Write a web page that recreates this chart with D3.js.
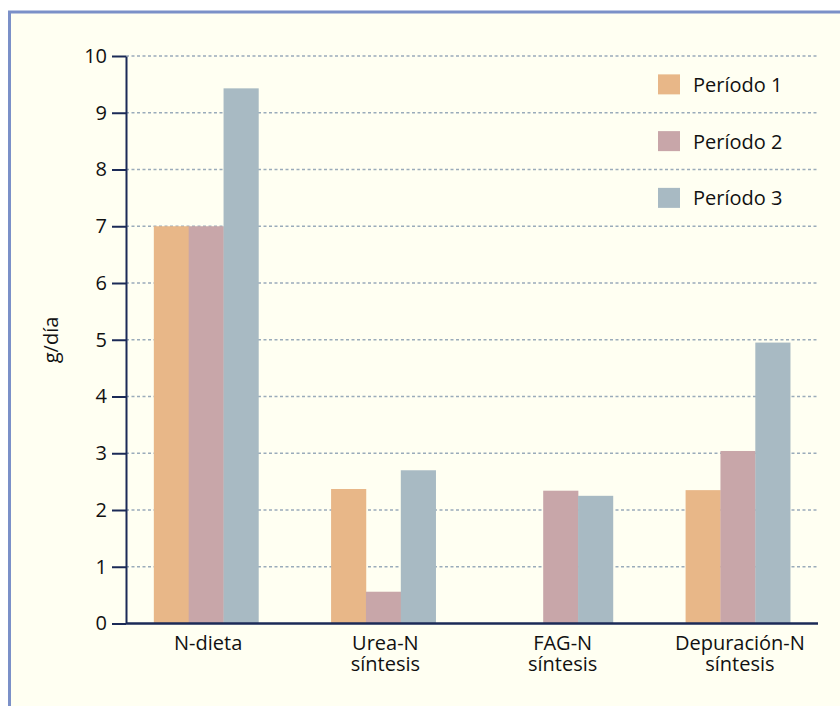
<!DOCTYPE html>
<html>
<head>
<meta charset="utf-8">
<script src="https://cdn.jsdelivr.net/npm/d3@7"></script>
<style>
    body { margin: 0; background: #ffffff; }
    text { font-family: 'Open Sans', sans-serif; fill: #111111; }
    .grid line { stroke: #9aabba; stroke-width: 1.3; stroke-dasharray: 3 2.5; }
    .axis path, .axis line { stroke: #1b2a57; stroke-width: 2; }
</style>
</head>
<body>
<div id="chart"></div>
<script>
const categories = [['N-dieta'], ['Urea-N', 'síntesis'], ['FAG-N', 'síntesis'], ['Depuración-N', 'síntesis']]
const seriesNames = ['Período 1', 'Período 2', 'Período 3']
const periodo1 = [7.0, 2.37, null, 2.35]
const periodo2 = [7.0, 0.56, 2.34, 3.04]
const periodo3 = [9.43, 2.70, 2.25, 4.95]
const yTicks = [0, 1, 2, 3, 4, 5, 6, 7, 8, 9, 10]
const colours = ['#e8b788', '#c8a6a9', '#a8bac3']

document.addEventListener('DOMContentLoaded', () => draw());

function draw() {
    const width = 840
    const height = 706
    const left = 126, right = 818, top = 56, bottom = 623.5

    const svg = d3.select('#chart')
        .append('svg')
        .attr('width', width)
        .attr('height', height)

    // frame
    svg.append('rect')
        .attr('x', 9.5).attr('y', 12)
        .attr('width', width + 20).attr('height', height + 20)
        .attr('fill', '#fffff2')
        .attr('stroke', '#7b90c8')
        .attr('stroke-width', 3)

    const keys = categories.map(c => c.join(' '))
    const series = [periodo1, periodo2, periodo3]

    const x = d3.scaleBand()
        .domain(keys)
        .range([left, right])
        .paddingInner(0.41)
        .paddingOuter(0.157)
    const xInner = d3.scaleBand()
        .domain(seriesNames)
        .range([0, x.bandwidth()])
    const y = d3.scaleLinear()
        .domain([0, 10])
        .range([bottom, top])

    // grid
    svg.append('g')
        .attr('class', 'grid')
        .selectAll('line')
        .data(yTicks.filter(t => t > 0))
        .enter()
        .append('line')
        .attr('x1', left).attr('x2', right)
        .attr('y1', d => y(d)).attr('y2', d => y(d))

    // bars
    const rows = []
    series.forEach((values, s) => {
        values.forEach((v, i) => {
            if (v != null) rows.push({ cat: keys[i], name: seriesNames[s], value: v, s })
        })
    })
    svg.append('g')
        .selectAll('rect')
        .data(rows)
        .enter()
        .append('rect')
        .attr('x', d => x(d.cat) + xInner(d.name))
        .attr('y', d => y(d.value))
        .attr('width', xInner.bandwidth() + 0.3)
        .attr('height', d => y(0) - y(d.value))
        .attr('fill', d => colours[d.s])

    // y axis
    const yAxis = svg.append('g')
        .attr('class', 'axis')
        .attr('transform', `translate(${left},0)`)
        .call(d3.axisLeft(y).tickValues(yTicks).tickSize(14).tickSizeOuter(0).tickPadding(5))
    yAxis.selectAll('text').style('font-size', '20px').attr('fill', '#111')

    // x axis line
    svg.append('line')
        .attr('class', 'axis-x')
        .attr('x1', left).attr('x2', right)
        .attr('y1', y(0)).attr('y2', y(0))
        .attr('stroke', '#1b2a57')
        .attr('stroke-width', 2.5)

    // x labels
    const xLabels = svg.append('g')
        .selectAll('text')
        .data(categories)
        .enter()
        .append('text')
        .attr('text-anchor', 'middle')
        .style('font-size', '20px')
        .attr('transform', (d, i) => `translate(${x(keys[i]) + x.bandwidth() / 2 + 2}, 650)`)
    xLabels.selectAll('tspan')
        .data(d => d)
        .enter()
        .append('tspan')
        .attr('x', 0)
        .attr('y', (d, i) => i * 20.5)
        .text(d => d)

    // y label
    svg.append('text')
        .attr('transform', `translate(58, 340) rotate(-90)`)
        .attr('text-anchor', 'middle')
        .style('font-size', '20px')
        .text('g/día')

    // legend
    const legend = svg.append('g')
        .selectAll('g')
        .data(seriesNames)
        .enter()
        .append('g')
        .attr('transform', (d, i) => `translate(658, ${(y(10 - i) + y(9 - i)) / 2})`)
    legend.append('rect')
        .attr('x', 0).attr('y', -10)
        .attr('width', 22).attr('height', 20)
        .attr('fill', (d, i) => colours[i])
    legend.append('text')
        .attr('x', 35)
        .attr('y', 0)
        .attr('dominant-baseline', 'central')
        .style('font-size', '20px')
        .text(d => d)
}
</script>
</body>
</html>
